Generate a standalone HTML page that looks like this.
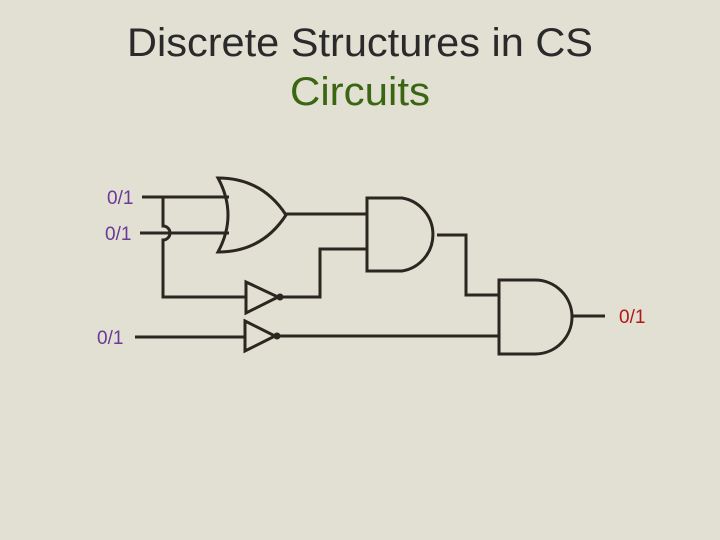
<!DOCTYPE html><html><head><style>body{margin:0}</style></head><body>
<svg width="720" height="540" xmlns="http://www.w3.org/2000/svg" style="display:block;background:#e2dfd3">
<text x="360" y="56" font-family="Liberation Sans, sans-serif" font-size="40" text-anchor="middle" fill="#2a2a2a" textLength="466" lengthAdjust="spacingAndGlyphs">Discrete Structures in CS</text>
<text x="360" y="105" font-family="Liberation Sans, sans-serif" font-size="40" text-anchor="middle" fill="#3a6612" textLength="140" lengthAdjust="spacingAndGlyphs">Circuits</text>
<g font-family="Liberation Sans, sans-serif" font-size="19" fill="#6a3a96">
<text x="107" y="204">0/1</text><text x="105" y="240">0/1</text><text x="97" y="344">0/1</text></g>
<text x="619" y="323" font-family="Liberation Sans, sans-serif" font-size="19" fill="#b01818">0/1</text>
<g stroke="#2b2720" stroke-width="3" fill="none">
<path d="M142 197H229M140 233H229"/>
<path d="M163 197V226A7 7 0 0 1 163 240V297H246"/>
<path d="M218 178Q238 215 218 252Q262 252 286 215Q262 178 218 178Z"/>
<path d="M286 214H367M367 198H402A37 37 0 0 1 402 271H367Z"/>
<path d="M367 249H320V297H280"/>
<path d="M246 282L278 297L246 313Z"/>
<path d="M135 337H245M245 321L275 336L245 351Z M278 336H499"/>
<path d="M437 235H466V295H499"/>
<path d="M499 280H535A37 37 0 0 1 535 354H499Z M571 316H605"/>
</g>
<circle cx="280" cy="297" r="3.5" fill="#2b2720"/><circle cx="277" cy="336" r="3.5" fill="#2b2720"/>
</svg></body></html>
